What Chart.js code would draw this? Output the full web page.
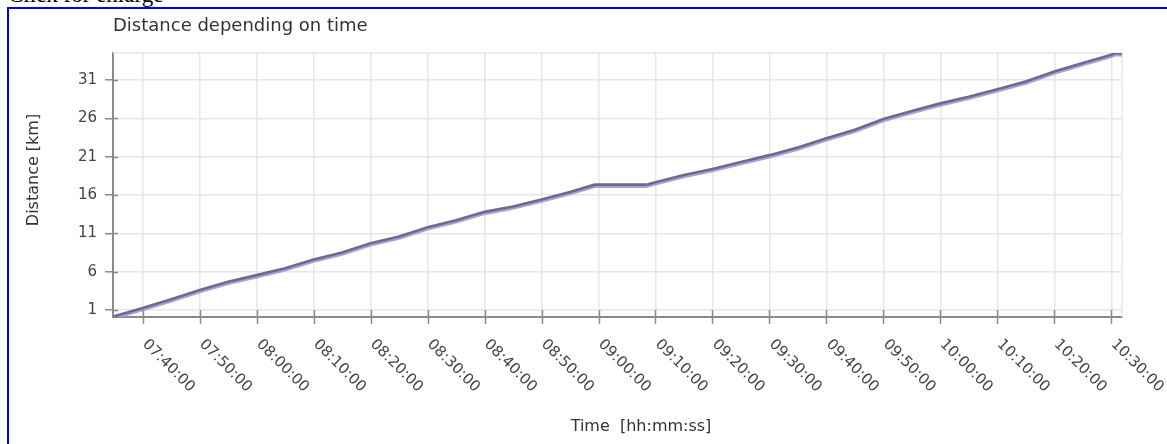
<!DOCTYPE html>
<html>
<head>
<meta charset="utf-8">
<script src="https://cdn.jsdelivr.net/npm/chart.js@4.4.1/dist/chart.umd.min.js"></script>
<style>
    body { margin: 0; background: #fff; overflow: hidden; }
    .caption {
        position: absolute; left: 8px; top: -17px;
        font: 23px "Liberation Serif", "Times New Roman", serif; line-height: 23px; color: #000;
    }
    .frame {
        position: absolute; left: 7px; top: 7px; width: 1300px; height: 500px;
        border: 2px solid #0000ee;
    }
    #distanceChart { position: absolute; left: 0; top: 0; }
</style>
</head>
<body>
<div class="caption">Click for enlarge</div>
<div class="frame"></div>
<canvas id="distanceChart" width="1167" height="444"></canvas>

<script>
// values
const times = ['07:34:47', '07:40:00', '07:45:00', '07:50:00', '07:55:00', '08:00:00', '08:05:00',
    '08:10:00', '08:15:00', '08:20:00', '08:25:00', '08:30:00', '08:35:00', '08:40:00', '08:45:00',
    '08:50:00', '08:55:00', '08:59:20', '09:08:20', '09:10:00', '09:15:00', '09:20:00', '09:25:00',
    '09:30:00', '09:35:00', '09:40:00', '09:45:00', '09:50:00', '09:55:00', '10:00:00', '10:05:00',
    '10:10:00', '10:15:00', '10:20:00', '10:25:00', '10:30:00', '10:30:40', '10:31:53'];
const distances = [0.15, 1.25, 2.4, 3.6, 4.7, 5.55, 6.45,
    7.6, 8.5, 9.7, 10.6, 11.8, 12.7, 13.8, 14.5,
    15.4, 16.4, 17.35, 17.35, 17.65, 18.6, 19.4, 20.3,
    21.2, 22.2, 23.4, 24.5, 25.9, 26.95, 27.95, 28.8,
    29.8, 30.8, 32.1, 33.2, 34.3, 34.5, 34.5];

const xTickLabels = ['07:40:00', '07:50:00', '08:00:00', '08:10:00', '08:20:00', '08:30:00',
    '08:40:00', '08:50:00', '09:00:00', '09:10:00', '09:20:00', '09:30:00', '09:40:00',
    '09:50:00', '10:00:00', '10:10:00', '10:20:00', '10:30:00'];
const yTicks = [1, 6, 11, 16, 21, 26, 31];
const yMin = 0.09;
const yMax = 34.52;

const FONT = '"DejaVu Sans", Verdana, sans-serif';
const AXIS_GREY = '#8a8a8a';
const GRID_GREY = '#e6e6e6';

function toSeconds(t) {
    const p = t.split(':').map(Number);
    return p[0] * 3600 + p[1] * 60 + p[2];
}

const points = times.map((t, i) => ({ x: toSeconds(t), y: distances[i] }));

// lavender edge under the dark line
const lineShadow = {
    id: 'lineShadow',
    beforeDatasetDraw(chart) {
        const ctx = chart.ctx;
        ctx.save();
        ctx.shadowColor = '#a4a4dc';
        ctx.shadowOffsetX = 0;
        ctx.shadowOffsetY = 2;
        ctx.shadowBlur = 0;
    },
    afterDatasetDraw(chart) {
        chart.ctx.restore();
    }
};

const decor = {
    id: 'decor',
    beforeDatasetsDraw(chart) {
        const ctx = chart.ctx;
        const a = chart.chartArea;
        ctx.save();
        ctx.strokeStyle = GRID_GREY;
        ctx.lineWidth = 1.5;
        ctx.beginPath();
        ctx.moveTo(a.left, a.top);
        ctx.lineTo(a.right, a.top);
        ctx.lineTo(a.right, a.bottom);
        ctx.stroke();
        ctx.restore();
    },
    afterDraw(chart) {
        const ctx = chart.ctx;
        const a = chart.chartArea;
        const xs = chart.scales.x;
        const ys = chart.scales.y;
        ctx.save();

        // tick marks crossing the axes
        ctx.strokeStyle = AXIS_GREY;
        ctx.lineWidth = 1.5;
        ctx.beginPath();
        xTickLabels.forEach(lbl => {
            const px = Math.round(xs.getPixelForValue(toSeconds(lbl))) + 0.5;
            ctx.moveTo(px, a.bottom - 7);
            ctx.lineTo(px, a.bottom + 7);
        });
        yTicks.forEach(v => {
            const py = Math.round(ys.getPixelForValue(v)) + 0.5;
            ctx.moveTo(a.left, py);
            ctx.lineTo(a.left + 5, py);
        });
        ctx.stroke();

        // rotated time labels
        ctx.fillStyle = '#444';
        ctx.font = '15px ' + FONT;
        ctx.textAlign = 'left';
        ctx.textBaseline = 'middle';
        xTickLabels.forEach(lbl => {
            const px = xs.getPixelForValue(toSeconds(lbl));
            ctx.save();
            ctx.translate(px + 2, a.bottom + 25);
            ctx.rotate(Math.PI / 4);
            ctx.fillText(lbl, 0, 0);
            ctx.restore();
        });

        // titles
        ctx.fillStyle = '#333';
        ctx.font = '18px ' + FONT;
        ctx.textBaseline = 'alphabetic';
        ctx.fillText('Distance depending on time', a.left, 31);

        ctx.font = '16px ' + FONT;
        ctx.textAlign = 'center';
        ctx.textBaseline = 'middle';
        ctx.fillText('Time  [hh:mm:ss]', 641, 427);

        ctx.translate(33.5, 170);
        ctx.rotate(-Math.PI / 2);
        ctx.fillText('Distance [km]', 0, 0);
        ctx.restore();
    }
};

new Chart(document.getElementById('distanceChart'), {
    type: 'line',
    data: {
        datasets: [{
            label: 'Distance',
            data: points,
            borderColor: '#6a6a8a',
            borderWidth: 2.6,
            pointRadius: 0,
            tension: 0,
            fill: false
        }]
    },
    options: {
        responsive: false,
        animation: false,
        events: [],
        layout: { padding: { left: 0, top: 53, right: 45, bottom: 0 } },
        plugins: {
            legend: { display: false },
            tooltip: { enabled: false },
            title: { display: false }
        },
        scales: {
            x: {
                type: 'linear',
                min: toSeconds(times[0]),
                max: toSeconds(times[times.length - 1]),
                afterBuildTicks: scale => {
                    scale.ticks = xTickLabels.map(l => ({ value: toSeconds(l) }));
                },
                afterFit: scale => { scale.height = 127; },
                ticks: { display: false },
                grid: { color: GRID_GREY, lineWidth: 1.5, drawTicks: false },
                border: { display: true, color: AXIS_GREY, width: 2 }
            },
            y: {
                min: yMin,
                max: yMax,
                afterBuildTicks: scale => {
                    scale.ticks = yTicks.map(v => ({ value: v }));
                },
                afterFit: scale => { scale.width = 113; },
                ticks: {
                    color: '#444',
                    font: { family: FONT, size: 15 },
                    padding: 8,
                    callback: v => String(v)
                },
                grid: { color: GRID_GREY, lineWidth: 1.5, tickLength: 8, tickColor: AXIS_GREY },
                border: { display: true, color: AXIS_GREY, width: 2 }
            }
        }
    },
    plugins: [lineShadow, decor]
});
</script>
</body>
</html>
